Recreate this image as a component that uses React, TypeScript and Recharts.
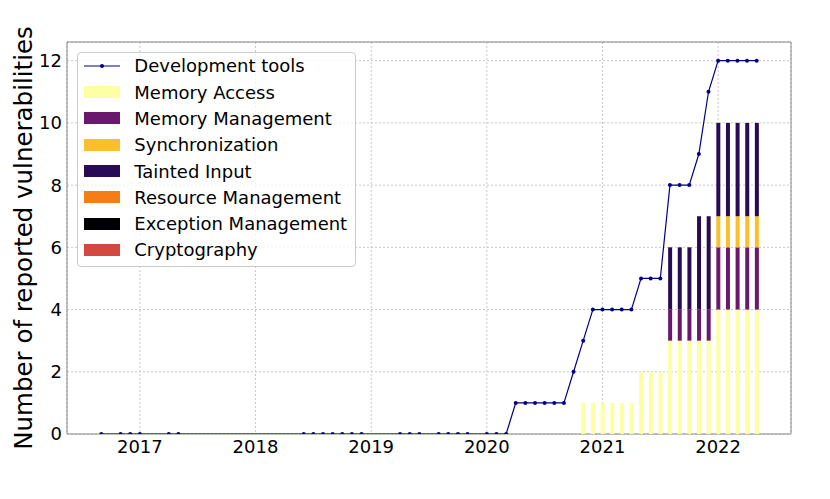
import React from 'react';
import {
  ComposedChart,
  Line,
  Bar,
  XAxis,
  YAxis,
  CartesianGrid,
  Legend,
  ReferenceArea,
} from 'recharts';

// Months where "Development tools" was sampled, with the cumulative count
const devMonths = [
  '2016-09', '2016-11', '2016-12', '2017-01', '2017-04', '2017-05',
  '2018-06', '2018-07', '2018-08', '2018-09', '2018-10', '2018-11', '2018-12',
  '2019-04', '2019-05', '2019-06', '2019-08', '2019-09', '2019-10', '2019-11',
  '2020-01', '2020-02', '2020-03', '2020-04', '2020-05', '2020-06', '2020-07',
  '2020-08', '2020-09', '2020-10', '2020-11', '2020-12',
  '2021-01', '2021-02', '2021-03', '2021-04', '2021-05', '2021-06', '2021-07',
  '2021-08', '2021-09', '2021-10', '2021-11', '2021-12',
  '2022-01', '2022-02', '2022-03', '2022-04', '2022-05',
];
const devTools = [
  0, 0, 0, 0, 0, 0,
  0, 0, 0, 0, 0, 0, 0,
  0, 0, 0, 0, 0, 0, 0,
  0, 0, 0, 1, 1, 1, 1,
  1, 1, 2, 3, 4,
  4, 4, 4, 4, 5, 5, 5,
  8, 8, 8, 9, 11,
  12, 12, 12, 12, 12,
];

// Stacked bars by vulnerability category
const barMonths = [
  '2020-11', '2020-12', '2021-01', '2021-02', '2021-03', '2021-04',
  '2021-05', '2021-06', '2021-07', '2021-08', '2021-09', '2021-10',
  '2021-11', '2021-12', '2022-01', '2022-02', '2022-03', '2022-04', '2022-05',
];
const memoryAccess = [1, 1, 1, 1, 1, 1, 2, 2, 2, 3, 3, 3, 3, 3, 4, 4, 4, 4, 4];
const memoryManagement = [0, 0, 0, 0, 0, 0, 0, 0, 0, 1, 1, 1, 1, 1, 2, 2, 2, 2, 2];
const synchronization = [0, 0, 0, 0, 0, 0, 0, 0, 0, 0, 0, 0, 0, 0, 1, 1, 1, 1, 1];
const taintedInput = [0, 0, 0, 0, 0, 0, 0, 0, 0, 2, 2, 2, 3, 3, 3, 3, 3, 3, 3];
const resourceManagement = [0, 0, 0, 0, 0, 0, 0, 0, 0, 0, 0, 0, 0, 0, 0, 0, 0, 0, 0];
const exceptionManagement = [0, 0, 0, 0, 0, 0, 0, 0, 0, 0, 0, 0, 0, 0, 0, 0, 0, 0, 0];
const cryptography = [0, 0, 0, 0, 0, 0, 0, 0, 0, 0, 0, 0, 0, 0, 0, 0, 0, 0, 0];

const yearTicks = [2017, 2018, 2019, 2020, 2021, 2022];
const countTicks = [0, 2, 4, 6, 8, 10, 12];

const categories = [
  { key: 'memoryAccess', name: 'Memory Access', color: '#fcffa4', values: memoryAccess },
  { key: 'memoryManagement', name: 'Memory Management', color: '#6a176e', values: memoryManagement },
  { key: 'synchronization', name: 'Synchronization', color: '#fbbf2c', values: synchronization },
  { key: 'taintedInput', name: 'Tainted Input', color: '#280b54', values: taintedInput },
  { key: 'resourceManagement', name: 'Resource Management', color: '#f57d15', values: resourceManagement },
  { key: 'exceptionManagement', name: 'Exception Management', color: '#000004', values: exceptionManagement },
  { key: 'cryptography', name: 'Cryptography', color: '#d44842', values: cryptography },
];

const LINE_COLOR = '#00008b';
const FONT = '"DejaVu Sans", sans-serif';

// "2020-11" -> fractional year
const toYear = (s: string) => {
  const [y, m] = s.split('-').map(Number);
  return y + (m - 1) / 12;
};

const data = devMonths.map((month, i) => {
  const row: Record<string, number | string | undefined> = {
    month,
    t: toYear(month),
    devTools: devTools[i],
  };
  const j = barMonths.indexOf(month);
  if (j >= 0) {
    categories.forEach(c => {
      row[c.key] = c.values[j];
    });
  }
  return row;
});

const LegendBox = () => (
  <div
    style={{
      border: '1px solid #cccccc',
      borderRadius: 4,
      background: 'rgba(255,255,255,0.8)',
      padding: '0px 8px 3px 0px',
      fontFamily: FONT,
      fontSize: 18,
      color: '#000',
    }}
  >
    <div style={{ display: 'flex', alignItems: 'center', height: 26.3 }}>
      <svg width={36} height={12} style={{ marginLeft: 6, marginRight: 14 }}>
        <line x1={0} y1={6} x2={36} y2={6} stroke={LINE_COLOR} strokeWidth={1.2} />
        <circle cx={18} cy={6} r={2} fill={LINE_COLOR} />
      </svg>
      <span>Development tools</span>
    </div>
    {categories.map(c => (
      <div key={c.key} style={{ display: 'flex', alignItems: 'center', height: 26.3 }}>
        <div
          style={{
            width: 36,
            height: 12,
            background: c.color,
            marginLeft: 6,
            marginRight: 14,
          }}
        />
        <span>{c.name}</span>
      </div>
    ))}
  </div>
);

const YLabel = ({ viewBox }: any) => {
  const cx = viewBox.x + 15;
  const cy = viewBox.y + viewBox.height / 2;
  return (
    <text
      x={cx}
      y={cy}
      transform={`rotate(-90, ${cx}, ${cy})`}
      textAnchor="middle"
      dominantBaseline="central"
      fontSize={24.5}
      fontFamily={FONT}
      fill="#000"
    >
      Number of reported vulnerabilities
    </text>
  );
};

const App: React.FC = () => {
  return (
    <ComposedChart
      width={814}
      height={483}
      data={data}
      margin={{ top: 34, right: 31, left: 0, bottom: 27 }}
      style={{ fontFamily: FONT }}
    >
      <CartesianGrid stroke="#c8c8c8" strokeDasharray="2 2" />
      <XAxis
        dataKey="t"
        type="number"
        domain={[2016.37, 2022.63]}
        ticks={yearTicks}
        allowDataOverflow
        axisLine={false}
        tickLine={false}
        tickSize={0}
        tickMargin={6}
        height={30}
        tick={{ fontSize: 18, fill: '#000', fontFamily: FONT }}
        tickFormatter={(v: number) => String(Math.round(v))}
      />
      <YAxis
        type="number"
        domain={[0, 12.6]}
        ticks={countTicks}
        allowDataOverflow
        axisLine={false}
        tickLine={false}
        tickSize={0}
        tickMargin={5}
        width={59}
        tick={{ fontSize: 18, fill: '#000', fontFamily: FONT }}
        label={{ content: YLabel }}
      />
      <ReferenceArea
        x1={2016.37}
        x2={2022.63}
        y1={0}
        y2={12.6}
        fill="none"
        fillOpacity={0}
        stroke="#888888"
        strokeWidth={1}
      />
      {categories.map(c => (
        <Bar
          key={c.key}
          dataKey={c.key}
          name={c.name}
          stackId="cat"
          fill={c.color}
          barSize={4}
          isAnimationActive={false}
        />
      ))}
      <Line
        type="linear"
        dataKey="devTools"
        name="Development tools"
        stroke={LINE_COLOR}
        strokeWidth={1.2}
        dot={{ r: 2, fill: LINE_COLOR, stroke: LINE_COLOR, strokeWidth: 0 }}
        activeDot={false}
        isAnimationActive={false}
      />
      <Legend
        layout="horizontal"
        verticalAlign="middle"
        align="center"
        content={<LegendBox />}
        wrapperStyle={{ left: 69.3, top: 43.7, width: 'auto', height: 'auto' }}
      />
    </ComposedChart>
  );
};

export default App;
